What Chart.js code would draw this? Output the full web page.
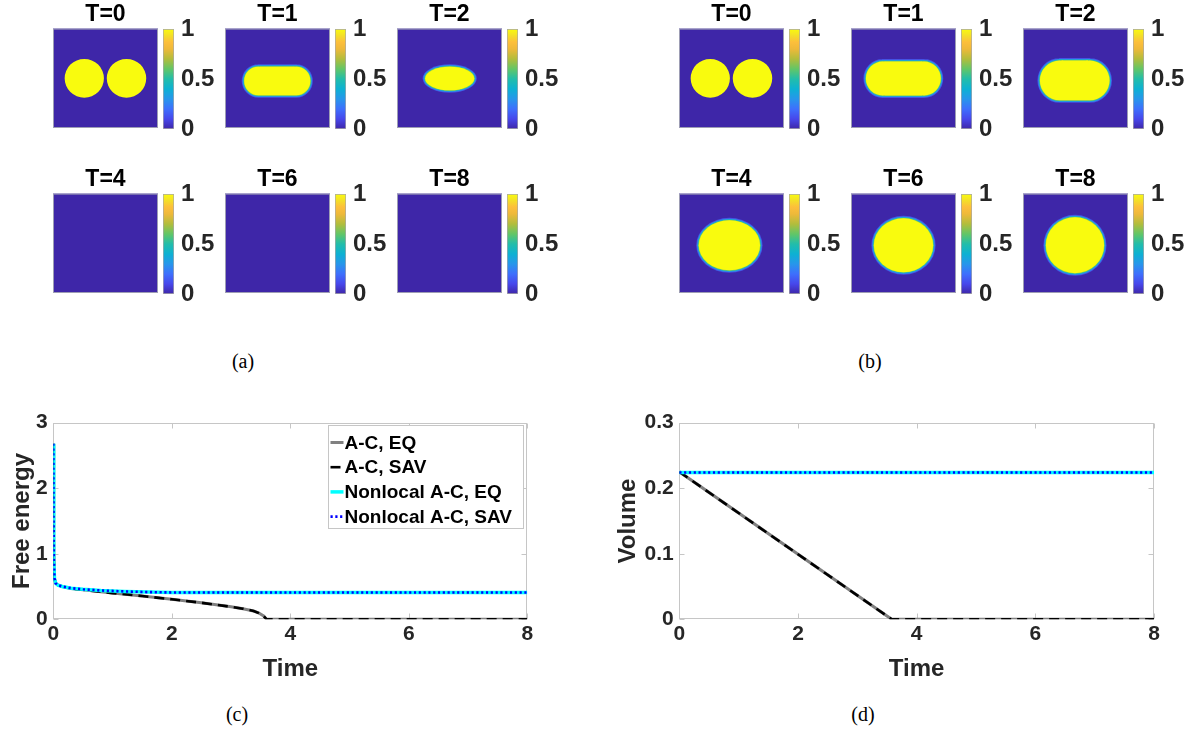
<!DOCTYPE html>
<html>
<head>
<meta charset="utf-8">
<script src="https://cdn.jsdelivr.net/npm/chart.js@4.4.1/dist/chart.umd.min.js"></script>
<style>
  body { margin: 0; background: #fff; }
  #fig { position: relative; width: 1193px; height: 732px; overflow: hidden; }
  #fig canvas { position: absolute; }
  .cap { position: absolute; font-family: "Liberation Serif", "Times New Roman", serif; font-size: 20px; color: #000; transform: translate(-50%, -50%); }
</style>
</head>
<body>
<div id="fig">
  <div class="cap" style="left:243px;top:361px">(a)</div>
  <div class="cap" style="left:870px;top:361px">(b)</div>
  <div class="cap" style="left:237px;top:714px">(c)</div>
  <div class="cap" style="left:863px;top:714px">(d)</div>
</div>
<script>
// ---- snapshot titles ----
const snapTitles = ['T=0', 'T=1', 'T=2', 'T=4', 'T=6', 'T=8'];

// ---- phase field shapes, domain [0,1]x[0,1] (y up)
// ellipse: ['e', cx, cy, rx, ry]   band: ['r', x0, x1, cy, halfHeight]
const twoDrops = [['e', 0.298, 0.5, 0.187, 0.195], ['e', 0.70, 0.5, 0.188, 0.195]];
const localT1 = [['e', 0.318, 0.473, 0.153, 0.163], ['e', 0.678, 0.473, 0.153, 0.163], ['r', 0.318, 0.678, 0.473, 0.163]];
const localT2 = [['e', 0.502, 0.498, 0.252, 0.138]];
const nonlocalT1 = [['e', 0.302, 0.498, 0.178, 0.189], ['e', 0.695, 0.498, 0.178, 0.189], ['r', 0.302, 0.695, 0.498, 0.189]];
const nonlocalT2 = [['e', 0.35, 0.478, 0.207, 0.219], ['e', 0.635, 0.478, 0.207, 0.219], ['r', 0.35, 0.635, 0.478, 0.219]];
const nonlocalT4 = [['e', 0.48, 0.48, 0.31, 0.27]];
const nonlocalT6 = [['e', 0.50, 0.48, 0.30, 0.29]];
const nonlocalT8 = [['e', 0.495, 0.48, 0.295, 0.30]];

const shapesA = [twoDrops, localT1, localT2, [], [], []];
const shapesB = [twoDrops, nonlocalT1, nonlocalT2, nonlocalT4, nonlocalT6, nonlocalT8];

// ---- colour bar ticks and parula map ----
const colorbarTicks = [0, 0.5, 1];
const parulaStops = [0, 0.1, 0.2, 0.3, 0.4, 0.5, 0.6, 0.7, 0.8, 0.87, 0.93, 1];
const parulaColors = ['#3e26a8', '#4747eb', '#3e6ffd', '#2796eb', '#0db1d3', '#22bdaa', '#62c667', '#b2bd3c', '#eeb93a', '#fdbf3b', '#f4dd2a', '#f9fb0e'];

// ---- (c) free energy ----
const acTime = [0, 0.004, 0.01, 0.02, 0.04, 0.08, 0.15, 0.3, 0.5, 0.8, 1.0, 1.5, 2.0, 2.5, 3.0, 3.2, 3.38, 3.47, 3.55, 3.6, 8];
const acEnergy = [2.68, 1.6, 0.9, 0.62, 0.55, 0.52, 0.5, 0.47, 0.45, 0.42, 0.40, 0.355, 0.305, 0.252, 0.19, 0.162, 0.127, 0.095, 0.05, 0, 0];
const nlTime = [0, 0.004, 0.01, 0.02, 0.04, 0.08, 0.15, 0.3, 0.5, 0.8, 1.2, 1.6, 2.0, 8];
const nlEnergy = [2.68, 1.6, 0.9, 0.62, 0.55, 0.52, 0.5, 0.475, 0.458, 0.44, 0.425, 0.415, 0.41, 0.41];

// ---- (d) volume ----
const acVolTime = [0, 3.58, 8];
const acVolume = [0.225, 0, 0];
const nlVolTime = [0, 8];
const nlVolume = [0.224, 0.224];

const seriesNames = ['A-C, EQ', 'A-C, SAV', 'Nonlocal A-C, EQ', 'Nonlocal A-C, SAV'];

Chart.defaults.font.family = '"Liberation Sans", Arial, Helvetica, sans-serif';
Chart.defaults.font.weight = 'bold';
Chart.defaults.color = '#262626';

const FIELD_BG = '#3e26a8';
const sharpRim = [[0, '#f9fb0e']];
const softRim = [[0.6, '#4453e4'], [-0.2, '#2a8fea'], [-0.9, '#1bb8bd'], [-1.5, '#8fc94c'], [-1.9, '#f9fb0e']];

const fig = document.getElementById('fig');
function addCanvas(left, top, w, h) {
  const c = document.createElement('canvas');
  c.width = w; c.height = h;
  c.style.left = left + 'px'; c.style.top = top + 'px';
  c.style.width = w + 'px'; c.style.height = h + 'px';
  fig.appendChild(c);
  return c;
}

function fieldPlugin(shapes, rim) {
  return {
    id: 'field',
    beforeDatasetsDraw(chart) {
      const {ctx, chartArea: a, scales: {x, y}} = chart;
      ctx.save();
      ctx.fillStyle = FIELD_BG;
      ctx.fillRect(a.left, a.top, a.width, a.height);
      ctx.beginPath();
      ctx.rect(a.left, a.top, a.width, a.height);
      ctx.clip();
      for (const [d, color] of rim) {
        ctx.beginPath();
        for (const s of shapes) {
          if (s[0] === 'e') {
            const cx = x.getPixelForValue(s[1]), cy = y.getPixelForValue(s[2]);
            const rx = Math.max(0.1, Math.abs(x.getPixelForValue(s[1] + s[3]) - cx) + d);
            const ry = Math.max(0.1, Math.abs(y.getPixelForValue(s[2] + s[4]) - cy) + d);
            ctx.moveTo(cx + rx, cy);
            ctx.ellipse(cx, cy, rx, ry, 0, 0, Math.PI * 2);
          } else {
            const x0 = x.getPixelForValue(s[1]) - d, x1 = x.getPixelForValue(s[2]) + d;
            const y0 = y.getPixelForValue(s[3] + s[4]) - d, y1 = y.getPixelForValue(s[3] - s[4]) + d;
            ctx.rect(x0, y0, x1 - x0, y1 - y0);
          }
        }
        ctx.fillStyle = color;
        ctx.fill();
      }
      ctx.restore();
      ctx.save();
      ctx.strokeStyle = '#9d9db4';
      ctx.lineWidth = 1;
      ctx.strokeRect(a.left + 0.5, a.top + 0.5, a.width - 1, a.height - 1);
      ctx.restore();
    }
  };
}

function fieldChart(left, top, title, shapes) {
  const rim = title === 'T=0' ? sharpRim : softRim;
  new Chart(addCanvas(left, top, 105, 127), {
    type: 'scatter',
    data: {datasets: []},
    options: {
      responsive: false, animation: false, events: [],
      layout: {padding: 0},
      scales: {
        x: {type: 'linear', min: 0, max: 1, display: false},
        y: {type: 'linear', min: 0, max: 1, display: false}
      },
      plugins: {
        legend: {display: false}, tooltip: {enabled: false},
        title: {display: true, text: title, color: '#000', padding: 0, font: {size: 23, weight: 'bold', lineHeight: 1.2}}
      }
    },
    plugins: [fieldPlugin(shapes, rim)]
  });
}

function parulaGradient(chart) {
  const a = chart.chartArea;
  if (!a) return parulaColors[parulaColors.length - 1];
  const g = chart.ctx.createLinearGradient(0, a.bottom, 0, a.top);
  parulaStops.forEach((t, i) => g.addColorStop(t, parulaColors[i]));
  return g;
}

function colorbarChart(left, top) {
  new Chart(addCanvas(left, top - 15, 62, 130), {
    type: 'bar',
    data: {
      labels: [''],
      datasets: [{
        data: [colorbarTicks[colorbarTicks.length - 1]],
        backgroundColor: c => parulaGradient(c.chart),
        borderColor: '#a9a9a9', borderWidth: 1, borderSkipped: false,
        barPercentage: 1, categoryPercentage: 1
      }]
    },
    options: {
      responsive: false, animation: false, events: [],
      layout: {padding: {top: 15, bottom: 15}},
      scales: {
        x: {display: false},
        y: {
          position: 'right', min: colorbarTicks[0], max: colorbarTicks[colorbarTicks.length - 1],
          grid: {display: false, drawTicks: false}, border: {display: false},
          afterBuildTicks: s => { s.ticks = colorbarTicks.map(v => ({value: v})); },
          ticks: {padding: 7, color: '#262626', font: {size: 24, weight: 'bold'}, callback: v => String(v)},
          afterFit: s => { s.width = 51; s.paddingTop = 0; s.paddingBottom = 0; }
        }
      },
      plugins: {legend: {display: false}, tooltip: {enabled: false}}
    }
  });
}

const colLeftA = [53, 225, 397];
const colLeftB = [679, 851, 1023];
const rowTop = [1, 166];
[[colLeftA, shapesA], [colLeftB, shapesB]].forEach(([cols, shapes]) => {
  for (let k = 0; k < 6; k++) {
    const r = Math.floor(k / 3), c = k % 3;
    fieldChart(cols[c], rowTop[r], snapTitles[k], shapes[k]);
    colorbarChart(cols[c] + 110, rowTop[r] + 27.6);
  }
});

// ---- line charts ----
const boxPlugin = {
  id: 'mbox',
  beforeDatasetsDraw(chart) {
    const {ctx, chartArea: a, scales: {x, y}} = chart;
    ctx.save();
    ctx.strokeStyle = '#c6c6c6';
    ctx.lineWidth = 1;
    const L = Math.round(a.left) + 0.5, R = Math.round(a.right) - 0.5;
    const T = Math.round(a.top) + 0.5, B = Math.round(a.bottom) - 0.5;
    ctx.strokeRect(L, T, R - L, B - T);
    ctx.beginPath();
    x.ticks.forEach(t => {
      const px = Math.round(x.getPixelForValue(t.value)) + 0.5;
      ctx.moveTo(px, B); ctx.lineTo(px, B - 5);
      ctx.moveTo(px, T); ctx.lineTo(px, T + 5);
    });
    y.ticks.forEach(t => {
      const py = Math.round(y.getPixelForValue(t.value)) + 0.5;
      ctx.moveTo(L, py); ctx.lineTo(L + 5, py);
      ctx.moveTo(R, py); ctx.lineTo(R - 5, py);
    });
    ctx.stroke();
    ctx.restore();
  }
};

const legendPlugin = {
  id: 'mlegend',
  afterDatasetsDraw(chart, args, opts) {
    if (!opts.show) return;
    const {ctx, chartArea: a} = chart;
    const w = 195, h = 103;
    const bx = Math.round(a.right - 4 - w) + 0.5, by = Math.round(a.top + 2.5) + 0.5;
    ctx.save();
    ctx.fillStyle = '#fff';
    ctx.fillRect(bx, by, w, h);
    ctx.strokeStyle = '#c6c6c6';
    ctx.lineWidth = 1;
    ctx.strokeRect(bx, by, w, h);
    ctx.font = 'bold 19px "Liberation Sans", Arial, sans-serif';
    ctx.textBaseline = 'middle';
    ctx.fillStyle = '#000';
    chart.data.datasets.forEach((ds, i) => {
      const yy = by + 17 + i * 24.7;
      ctx.save();
      ctx.strokeStyle = ds.borderColor;
      ctx.lineWidth = ds.borderWidth;
      ctx.setLineDash(ds.borderDash || []);
      ctx.beginPath();
      ctx.moveTo(bx + 2, yy); ctx.lineTo(bx + 15, yy);
      ctx.stroke();
      ctx.restore();
      ctx.fillText(ds.label, bx + 16, yy + 1);
    });
    ctx.restore();
  }
};

function pts(xs, ys) { return xs.map((v, i) => ({x: v, y: ys[i]})); }

function lineStyles(acX, acY, nlX, nlY) {
  return [
    {label: seriesNames[0], data: pts(acX, acY), borderColor: '#808080', borderWidth: 3, order: 4},
    {label: seriesNames[1], data: pts(acX, acY), borderColor: '#000000', borderWidth: 2.6, borderDash: [10, 6], order: 3},
    {label: seriesNames[2], data: pts(nlX, nlY), borderColor: '#00ffff', borderWidth: 3.5, order: 2},
    {label: seriesNames[3], data: pts(nlX, nlY), borderColor: '#0000ff', borderWidth: 2.6, borderDash: [2.2, 2.6], order: 1}
  ];
}

function lineChart(left, top, w, h, o) {
  new Chart(addCanvas(left, top, w, h), {
    type: 'scatter',
    data: {datasets: o.datasets.map(d => Object.assign({showLine: true, pointRadius: 0, tension: 0, backgroundColor: d.borderColor}, d))},
    options: {
      responsive: false, animation: false, events: [],
      layout: {padding: {top: 12.7, right: o.padRight, left: 0, bottom: 0}},
      scales: {
        x: {
          type: 'linear', min: 0, max: 8,
          grid: {display: false, drawTicks: false}, border: {display: false},
          ticks: {stepSize: 2, padding: 2, color: '#262626', font: {size: 21, weight: 'bold'}},
          title: {display: true, text: 'Time', color: '#262626', padding: {top: 0, bottom: 16.6}, font: {size: 24, weight: 'bold', lineHeight: 1.2}},
          afterFit: s => { s.height = h - 209.3; s.paddingLeft = 0; s.paddingRight = 0; }
        },
        y: {
          type: 'linear', min: 0, max: o.yMax,
          grid: {display: false, drawTicks: false}, border: {display: false},
          ticks: {stepSize: o.yStep, padding: 5.5, color: '#262626', font: {size: 21, weight: 'bold'}},
          title: {display: true, text: o.yTitle, color: '#262626', padding: {top: 7.6, bottom: 0}, font: {size: 24, weight: 'bold', lineHeight: 1.2}},
          afterFit: s => { s.width = o.yWidth; s.paddingTop = 0; s.paddingBottom = 0; }
        }
      },
      plugins: {legend: {display: false}, tooltip: {enabled: false}, mlegend: {show: o.legend}}
    },
    plugins: [boxPlugin, legendPlugin]
  });
}

lineChart(0, 410, 545, 290, {
  datasets: lineStyles(acTime, acEnergy, nlTime, nlEnergy),
  yMax: 3, yStep: 1, yTitle: 'Free energy', yWidth: 53.3, padRight: 17.7, legend: true
});
lineChart(606, 410, 570, 290, {
  datasets: lineStyles(acVolTime, acVolume, nlVolTime, nlVolume),
  yMax: 0.3, yStep: 0.1, yTitle: 'Volume', yWidth: 73.3, padRight: 22, legend: false
});
</script>
</body>
</html>
